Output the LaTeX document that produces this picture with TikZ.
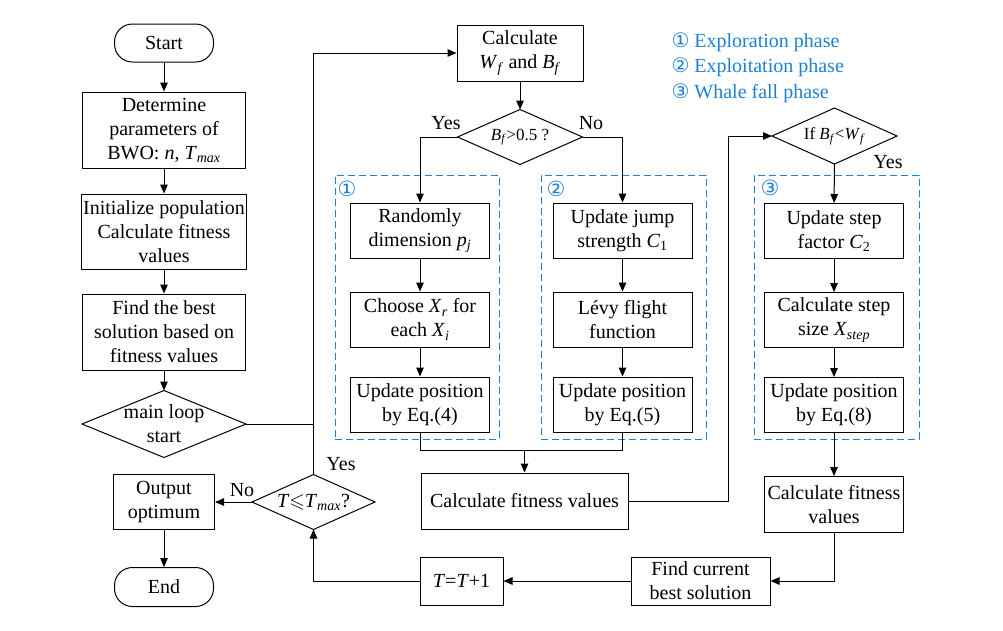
\documentclass[tikz,border=0pt]{standalone}
\usepackage{amssymb}
\usepackage{fontspec}
\setmainfont{Liberation Serif}[Ligatures=TeX]
\newfontfamily\circfont{DejaVu Sans}
\usetikzlibrary{positioning,shapes.geometric,arrows.meta}
\definecolor{PhaseBlue}{RGB}{30,128,210}
\newcommand{\vsub}[2]{\textit{#1}\textsubscript{\textit{#2}}}

\begin{document}
\begin{tikzpicture}[
        x=1pt, y=1pt,
        font=\rmfamily\fontsize{20}{24}\selectfont, line width=1pt,
        box/.style={draw, align=center, inner sep=2pt, minimum height=55pt},
        proc/.style={box, minimum width=139pt},
        term/.style={box, rounded corners=18pt, minimum width=99pt, minimum height=38pt},
        dia/.style={draw, diamond, inner sep=0pt, outer sep=0pt, minimum width=125pt, minimum height=55pt},
        dtext/.style={align=center, inner sep=0pt},
        phase/.style={draw=PhaseBlue, dash pattern=on 7pt off 4pt, minimum width=165pt, minimum height=264pt},
        num/.style={text=PhaseBlue, font=\circfont\fontsize{21}{24}\selectfont, inner sep=0pt},
        tag/.style={inner sep=0pt},
        >={Triangle[length=9pt,width=7.5pt]}
    ]
        \useasboundingbox (0,0) rectangle (1003,-630);
        % phase frames
        \node[phase, minimum width=164pt] (ph1) at (417,-307) {};
        \node[phase] (ph2) at (623.5,-307) {};
        \node[phase] (ph3) at (836.5,-307) {};
        \node[num] (n1) at (347,-189) {①};
        \node[num] (n2) at (556,-189) {②};
        \node[num] (n3) at (770,-188) {③};
        % left column
        \node[term] (start) at (164,-43) {Start};
        \node[box, minimum width=163pt, minimum height=76pt, below=29pt of start] (param) {Determine\\parameters of\\BWO: \textit{n}, \vsub{T}{max}};
        \node[box, minimum width=163pt, minimum height=75pt, below=25pt of param] (init) {Initialize population\\Calculate fitness\\values};
        \node[box, minimum width=163pt, minimum height=76pt, below=24pt of init] (best) {Find the best\\solution based on\\fitness values};
        \node[dia, minimum width=164pt, minimum height=67pt, below=20pt of best] (loop) {};
        \node[dtext] (looptext) at (loop) {main loop\\start};
        \node[box, minimum width=101pt] (out) at (164,-502) {Output\\optimum};
        \node[term, minimum height=39pt, below=37pt of out] (end) {End};
        \node[dia, minimum width=123pt] (tcheck) at (313.5,-502) {};
        \node[dtext] (tchecktext) at (tcheck) {\textit{T}$\leqslant$\vsub{T}{max}?};
        % middle
        \node[box, minimum width=126pt, minimum height=56pt] (calcw) at (520,-53) {Calculate\\\vsub{W}{f} and \vsub{B}{f}};
        \node[dia, below=28pt of calcw] (bf) {};
        \node[dtext, font=\fontsize{17}{20}\selectfont] (bftext) at (bf) {\vsub{B}{f}>0.5 ?};
        \node[proc] (rand) at (420,-230.5) {Randomly\\dimension \vsub{p}{j}};
        \node[proc, below=33pt of rand] (choose) {Choose \vsub{X}{r} for\\each \vsub{X}{i}};
        \node[proc, below=29pt of choose] (upd4) {Update position\\by Eq.(4)};
        \node[proc] (jump) at (622.5,-230.5) {Update jump\\strength \textit{C}\textsubscript{1}};
        \node[proc, below=33pt of jump] (levy) {Lévy flight\\function};
        \node[proc, below=29pt of levy] (upd5) {Update position\\by Eq.(5)};
        \node[box, minimum width=207pt, minimum height=56pt] (fit) at (524.5,-501) {Calculate fitness values};
        \node[box, minimum width=83pt, minimum height=48pt] (tinc) at (461.5,-581) {\textit{T}=\textit{T}+1};
        % right
        \node[dia, minimum height=56pt] (ifbw) at (834.5,-136) {};
        \node[dtext, font=\fontsize{17}{20}\selectfont] (ifbwtext) at (ifbw) {If \vsub{B}{f}<\vsub{W}{f}};
        \node[proc] (ustep) at (834,-231) {Update step\\factor \textit{C}\textsubscript{2}};
        \node[proc, below=33pt of ustep] (xstep) {Calculate step\\size \vsub{X}{step}};
        \node[proc, below=29pt of xstep] (upd8) {Update position\\by Eq.(8)};
        \node[proc, minimum height=56pt, below=43pt of upd8] (fit2) {Calculate fitness\\values};
        \node[proc, minimum height=48pt] (cur) at (700.5,-581) {Find current\\best solution};
        % legend
        \node[align=left, text=PhaseBlue, anchor=west, inner sep=0pt, font=\fontsize{20}{25.5}\selectfont] (legend) at (671,-67.5)
            {{\circfont ①} Exploration phase\\{\circfont ②} Exploitation phase\\{\circfont ③} Whale fall phase};
        % labels
        \node[tag] (yes1) at (446,-123.5) {Yes};
        \node[tag] (no1) at (591,-123.5) {No};
        \node[tag] (yes2) at (888,-162.5) {Yes};
        \node[tag] (yes3) at (341,-464.5) {Yes};
        \node[tag] (no2) at (242,-490.5) {No};
        % connectors
        \draw[->] (start) -- (param);
        \draw[->] (param) -- (init);
        \draw[->] (init) -- (best);
        \draw[->] (best) -- (loop);
        \draw (loop.east) -- (loop.east -| tcheck.north);
        \draw[->] (tcheck.north) |- (calcw.west);
        \draw[->] (calcw) -- (bf);
        \draw[->] (bf.west) -| (rand.north);
        \draw[->] (bf.east) -| (jump.north);
        \draw[->] (rand) -- (choose);
        \draw[->] (choose) -- (upd4);
        \draw[->] (jump) -- (levy);
        \draw[->] (levy) -- (upd5);
        \coordinate (merge) at (524.5,-450);
        \draw (upd4.south) |- (merge) -| (upd5.south);
        \draw[->] (merge) -- (fit.north);
        \draw[->] (fit.east) -- ++(100,0) |- (ifbw.west);
        \draw[->] (ifbw) -- (ustep);
        \draw[->] (ustep) -- (xstep);
        \draw[->] (xstep) -- (upd8);
        \draw[->] (upd8) -- (fit2);
        \draw[->] (fit2.south) |- (cur.east);
        \draw[->] (cur) -- (tinc);
        \draw[->] (tinc.west) -| (tcheck.south);
        \draw[->] (tcheck.west) -- (out.east);
        \draw[->] (out) -- (end);
    \end{tikzpicture}
\end{document}
